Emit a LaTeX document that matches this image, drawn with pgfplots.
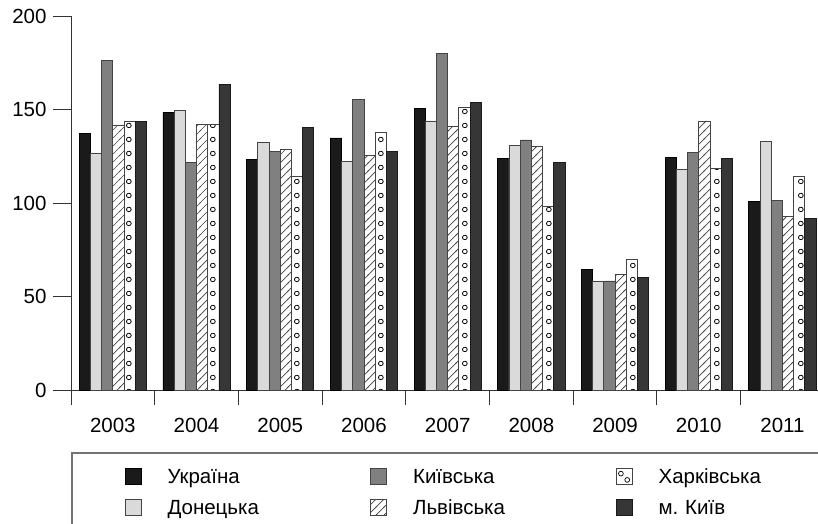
\documentclass[border=0pt]{standalone}
\usepackage{pgfplots}
\pgfplotsset{compat=1.18}
\usepackage{fontspec}
\setmainfont{Liberation Sans}
\usetikzlibrary{patterns}

\pgfdeclarepatternformonly{kcirc}{\pgfqpoint{0pt}{0pt}}{\pgfqpoint{83.7pt}{14pt}}{\pgfqpoint{83.7pt}{14pt}}{%
  \pgfsetlinewidth{0.8pt}%
  \pgfpathcircle{\pgfqpoint{45.95pt}{7pt}}{2.4pt}%
  \pgfusepath{stroke}%
}
\pgfdeclarepatternformonly{hatchne}{\pgfqpoint{-1pt}{-1pt}}{\pgfqpoint{9pt}{9pt}}{\pgfqpoint{8pt}{8pt}}{%
  \pgfsetlinewidth{0.7pt}%
  \pgfpathmoveto{\pgfqpoint{-1pt}{-1pt}}%
  \pgfpathlineto{\pgfqpoint{9pt}{9pt}}%
  \pgfusepath{stroke}%
}

\newcommand{\cf}{\fontsize{20.5}{24}\selectfont}
\definecolor{cUkr}{HTML}{1A1A1A}
\definecolor{cDon}{HTML}{DADADA}
\definecolor{cKyo}{HTML}{808080}
\definecolor{cKyc}{HTML}{363636}
\definecolor{cEdge}{HTML}{444444}

\pgfplotsset{
  sqlegend/.style={legend image code/.code={\draw[##1] (-8pt,-8pt) rectangle (8pt,8pt);}},
  circlegend/.style={legend image code/.code={%
      \draw[cEdge, line width=0.8pt, fill=white] (-8pt,-8pt) rectangle (8pt,8pt);
      \draw[black, line width=0.7pt, fill=white] (-3.3pt,3pt) circle (2.4pt);
      \draw[black, line width=0.7pt, fill=white] (3pt,-3.3pt) circle (2.4pt);}},
}

\pgfplotstableread{
x  ukr   don   kyo   lvi   kha   kyc
0  137.4 126.7 176.0 141.7 143.8 143.5
1  148.5 149.4 121.6 142.2 142.2 163.6
2  123.2 132.6 127.4 128.7 114.1 140.5
3  134.8 122.3 155.6 125.5 137.8 127.8
4  150.8 143.9 180.0 141.0 151.3 154.0
5  123.9 131.0 133.7 130.5  98.0 121.9
6   64.7  58.3  58.3  62.0  70.0  60.4
7  124.6 118.0 126.9 143.9 118.4 123.7
8  101.0 132.8 101.6  92.9 114.1  91.6
}\data

\begin{document}
\begin{tikzpicture}
\useasboundingbox (-71pt,-133pt) rectangle (747pt,390pt);
\begin{axis}[
  at={(0pt,0pt)}, anchor=south west,
  x=83.7pt, y=1.87pt,
  xmin=-0.5, xmax=8.425, ymin=0, ymax=200,
  axis x line*=bottom, axis y line*=left,
  axis line style={black!80, line width=0.9pt, -},
  ybar, bar width=11.2pt,
  xtick={0,...,8},
  xticklabels={2003,2004,2005,2006,2007,2008,2009,2010,2011},
  major x tick style={draw=none},
  minor xtick={-0.5,0.5,...,7.5},
  ytick={0,50,...,200},
  tick align=outside,
  major tick length=18pt, minor tick length=15pt,
  tick style={black!80, line width=0.9pt},
  every tick label/.append style={font=\cf},
  xticklabel style={yshift=-7pt},
  yticklabel style={xshift=-3pt},
  /pgf/number format/assume math mode=true,
  clip=false,
  legend columns=3,
  legend cell align=left,
  legend style={
    at={(axis description cs:0,0)}, anchor=north west,
    xshift=53.5pt, yshift=-78pt,
    draw=none, fill=none, inner sep=0pt,
    font=\cf, row sep=14pt,
    nodes={inner sep=0pt, text width=180pt, text height=14.7pt, text depth=0pt},
    /tikz/every odd column/.append style={column sep=26pt},
    /tikz/every even column/.append style={column sep=22.75pt},
  },
]
\addplot[sqlegend, fill=cUkr, draw=black, line width=0.8pt, bar shift=-28pt] table[x=x,y=ukr] {\data};
\addlegendentry{Україна}
\addplot[sqlegend, fill=cKyo, draw=cEdge, line width=0.8pt, bar shift=-5.6pt] table[x=x,y=kyo] {\data};
\addlegendentry{Київська}
\addplot[circlegend, pattern=kcirc, pattern color=black, draw=cEdge, line width=0.8pt, bar shift=16.8pt] table[x=x,y=kha] {\data};
\addlegendentry{Харківська}
\addplot[sqlegend, fill=cDon, draw=cEdge, line width=0.8pt, bar shift=-16.8pt] table[x=x,y=don] {\data};
\addlegendentry{Донецька}
\addplot[sqlegend, pattern=hatchne, pattern color=cEdge, draw=cEdge, line width=0.8pt, bar shift=5.6pt] table[x=x,y=lvi] {\data};
\addlegendentry{Львівська}
\addplot[sqlegend, fill=cKyc, draw=cUkr, line width=0.8pt, bar shift=28pt] table[x=x,y=kyc] {\data};
\addlegendentry{м.\ Київ}
\end{axis}
\draw[black!55, line width=1.2pt] (1pt,-145pt) |- (760pt,-63pt);
\end{tikzpicture}
\end{document}
